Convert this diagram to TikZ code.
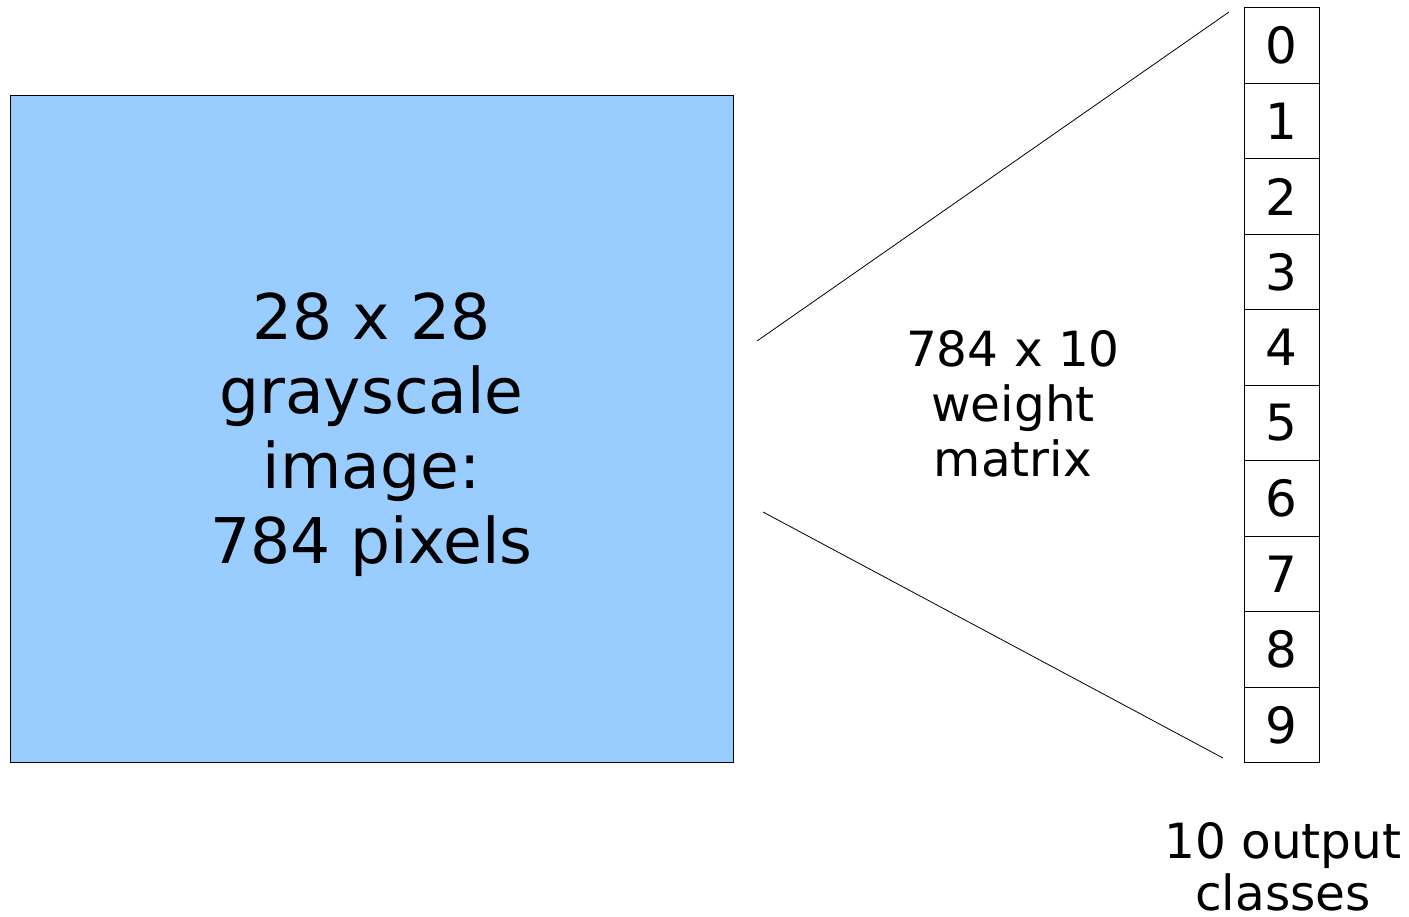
\documentclass[tikz,border=0pt]{standalone}
\usepackage{fontspec}
\setmainfont{DejaVu Sans}
\definecolor{imgblue}{HTML}{99CCFF}
\begin{document}
\begin{tikzpicture}[x=1pt,y=-1pt,
  frame/.style={draw=black,line width=0.9pt},
  wire/.style={draw=black,line width=0.8pt},
  cell/.style={frame,minimum width=75pt,minimum height=75.5pt,inner sep=0pt,anchor=north west,
    font=\fontsize{50}{55}\selectfont},
  caption/.style={align=center,inner sep=0pt,anchor=base}]
\useasboundingbox (0,0) rectangle (1409,917);
% input image
\node[frame,fill=imgblue,minimum width=723pt,minimum height=667pt,inner sep=0pt,anchor=north west] (img) at (10,95) {};
% the base anchor of a multi-line caption sits on its last line
\node[caption,font=\fontsize{63}{74.7}\selectfont] (imgtxt) at (371.5,563.3) {28 x 28\\grayscale\\image:\\784 pixels};
% output classes
\foreach \d in {0,...,9}{
  \node[cell] (c\d) at (1243.7,7.3+75.5*\d) {\d};
}
% fan of the weight matrix
\coordinate (fa) at (757,341);
\coordinate (fb) at (1229,12);
\coordinate (fc) at (763,512);
\coordinate (fd) at (1223,758);
\draw[wire] (fa) -- (fb);
\draw[wire] (fc) -- (fd);
\node[caption,font=\fontsize{48.5}{55}\selectfont] (wtxt) at (1013,476.7) {784 x 10\\weight\\matrix};
\node[caption,font=\fontsize{48.5}{52}\selectfont] (otxt) at (1283,910) {10 output\\classes};
\end{tikzpicture}
\end{document}
